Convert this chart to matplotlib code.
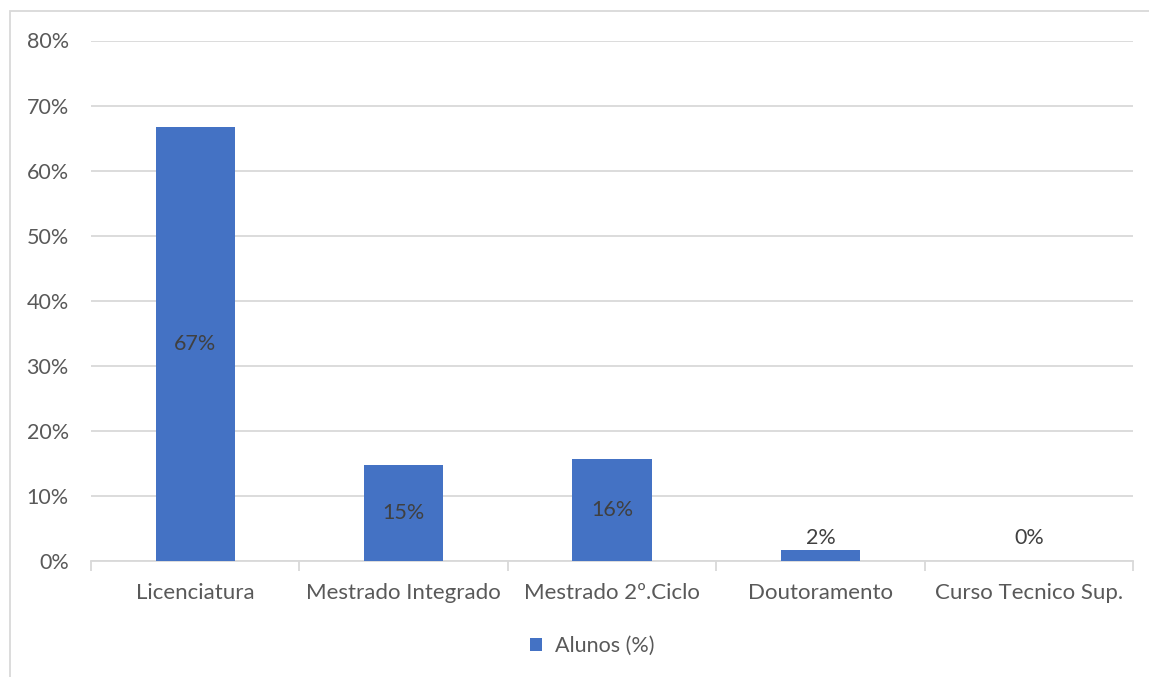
import matplotlib.pyplot as plt
import matplotlib.ticker as mticker
from matplotlib.patches import Rectangle

categories = ["Licenciatura", "Mestrado Integrado", "Mestrado 2º.Ciclo",
              "Doutoramento", "Curso Tecnico Sup."]
alunos_pct = [66.7, 14.7, 15.7, 1.7, 0.0]
value_labels = ["67%", "15%", "16%", "2%", "0%"]
y_ticks = [0, 10, 20, 30, 40, 50, 60, 70, 80]

BAR = "#4472C4"
GRID = "#D9D9D9"
TEXT = "#595959"
LABEL = "#404040"

plt.rcParams["font.family"] = ["Lato", "DejaVu Sans"]

fig = plt.figure(figsize=(11.49, 6.77), dpi=100)
W, H = 1149, 677
ax = fig.add_axes([91 / W, 1 - 561 / H, (1133 - 91) / W, (561 - 40.5) / H])

# chart area border (cropped on right and bottom)
fig.patches.append(Rectangle((10 / W, -0.1), 1.2, 1 - 11 / H + 0.1,
                             transform=fig.transFigure, fill=False,
                             edgecolor=GRID, linewidth=1.3))

xs = range(len(categories))
bars = ax.bar(xs, alunos_pct, width=0.38, color=BAR, zorder=3)

ax.set_xlim(-0.5, len(categories) - 0.5)
ax.set_ylim(0, 80)
ax.set_yticks(y_ticks)
ax.yaxis.set_major_formatter(mticker.FuncFormatter(lambda v, p: f"{v:.0f}%"))
ax.grid(axis="y", color=GRID, linewidth=1.3, zorder=0)
ax.set_axisbelow(True)

for s in ["top", "right", "left"]:
    ax.spines[s].set_visible(False)
ax.spines["bottom"].set_color(GRID)
ax.spines["bottom"].set_linewidth(1.3)

ax.set_xticks(list(xs))
ax.set_xticklabels(categories)
ax.tick_params(axis="x", length=0, pad=16, labelsize=16, labelcolor=TEXT)
ax.tick_params(axis="y", length=0, pad=16, labelsize=15.5, labelcolor=TEXT)

# category boundary ticks
ax.set_xticks([i - 0.5 for i in range(len(categories) + 1)], minor=True)
ax.tick_params(axis="x", which="minor", length=7, color=GRID, width=1.3)

for i, (v, lab) in enumerate(zip(alunos_pct, value_labels)):
    if v > 8:
        ax.text(i, v / 2, lab, ha="center", va="center", fontsize=15.5, color=LABEL, zorder=4)
    else:
        ax.text(i, 3.6, lab, ha="center", va="center", fontsize=15.5, color=LABEL, zorder=4)

ax.legend([bars], ["Alunos (%)"], loc="center", bbox_to_anchor=(592 / W, 1 - 646 / H),
          bbox_transform=fig.transFigure, frameon=False, fontsize=15.5,
          labelcolor=TEXT, handlelength=0.55, handleheight=0.55, handletextpad=0.6)

fig.savefig("out.png", dpi=100)
